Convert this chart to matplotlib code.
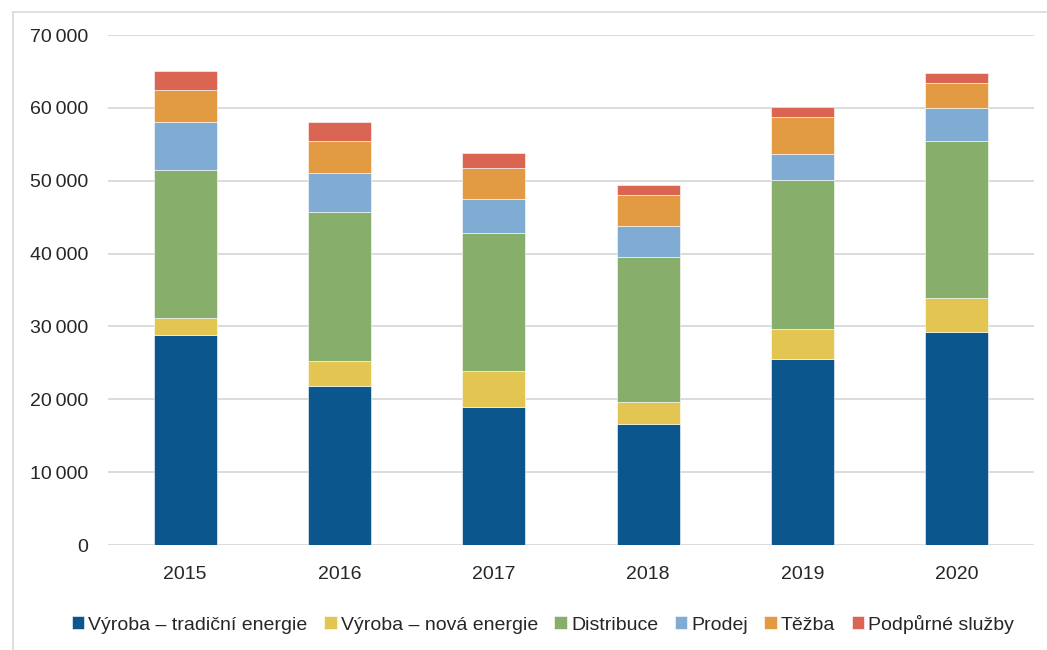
import matplotlib.pyplot as plt
import numpy as np
from matplotlib.lines import Line2D

years = ["2015", "2016", "2017", "2018", "2019", "2020"]
series_names = ["Výroba – tradiční energie", "Výroba – nová energie", "Distribuce",
                "Prodej", "Těžba", "Podpůrné služby"]
vyroba_tradicni = [28850, 21850, 18900, 16640, 25560, 29220]
vyroba_nova = [2350, 3390, 4970, 2930, 4030, 4660]
distribuce = [20300, 20530, 18930, 19900, 20510, 21540]
prodej = [6600, 5300, 4660, 4330, 3630, 4620]
tezba = [4300, 4330, 4350, 4300, 5020, 3330]
podpurne = [2660, 2700, 1960, 1380, 1330, 1380]
colors = ["#0b578d", "#e3c652", "#87ae6a", "#80abd3", "#e29b42", "#d96552"]

plt.rcParams['font.family'] = ['Liberation Sans', 'DejaVu Sans']

fig = plt.figure(figsize=(10.47, 6.5), dpi=100)
ax = fig.add_axes([108 / 1047, 1 - 545 / 650, (1034 - 108) / 1047, (545 - 35) / 650])

x = np.arange(len(years))
bottom = np.zeros(len(years))
for name, vals, c in zip(series_names,
                         [vyroba_tradicni, vyroba_nova, distribuce, prodej, tezba, podpurne],
                         colors):
    ax.bar(x, vals, width=0.41, bottom=bottom, color=c, label=name, zorder=3,
           edgecolor="white", linewidth=0.4)
    bottom += np.array(vals)

ax.set_xlim(-0.5, len(years) - 0.5)
ax.set_ylim(0, 70000)
ax.set_yticks(range(0, 70001, 10000))
ax.set_yticklabels([f"{v:,}".replace(",", "\u2009") for v in range(0, 70001, 10000)])
ax.set_xticks(x)
ax.set_xticklabels(years)
ax.tick_params(axis="y", length=0, pad=14, labelsize=14, labelcolor="#262626")
ax.tick_params(axis="x", length=0, pad=15, labelsize=14, labelcolor="#262626")
ax.grid(axis="y", color="#d9d9d9", linewidth=1.3, zorder=0)
for s in ax.spines.values():
    s.set_visible(False)

ax.legend(loc="center", bbox_to_anchor=(543 / 1047, 1 - 624 / 650), bbox_transform=fig.transFigure,
          ncol=6, frameon=False, fontsize=14, handlelength=0.65, handleheight=0.65,
          handletextpad=0.2, columnspacing=0.85, labelcolor="#262626")

# outer chart border (top and left only are visible)
fig.add_artist(Line2D([13 / 1047, 1], [1 - 11.7 / 650] * 2, color="#d9d9d9", linewidth=1.2))
fig.add_artist(Line2D([13 / 1047] * 2, [0, 1 - 11.7 / 650], color="#d9d9d9", linewidth=1.2))

fig.savefig("out.png", dpi=100)
